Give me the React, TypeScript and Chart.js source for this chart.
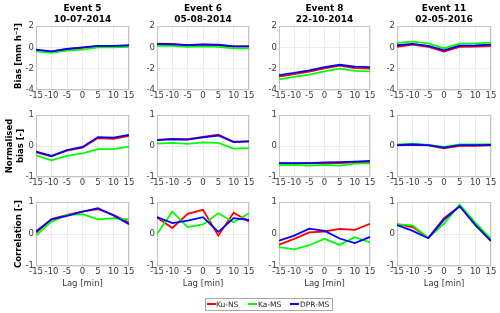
import { useEffect, useRef } from 'react';
import { Chart, registerables } from 'chart.js';
Chart.register(...registerables);

const lags = [-15, -10, -5, 0, 5, 10, 15];
const events = ['Event 5', 'Event 6', 'Event 8', 'Event 11'];
const dates = ['10-07-2014', '05-08-2014', '22-10-2014', '02-05-2016'];
const seriesNames = ['Ku-NS', 'Ka-MS', 'DPR-MS'];
const seriesColors = ['#ff0000', '#00ff00', '#0000ff'];
const rowLabels = [['Bias [mm h\u207B\u00B9]'], ['Normalised', 'bias [-]'], ['Correlation [-]']];
const rowRanges = [[-4, 2, 2], [-1, 1, 1], [-1, 1, 1]];

// Bias [mm h-1], one array per event
const biasKuNS = [
  [-0.25, -0.4, -0.15, -0.05, 0.12, 0.12, 0.15],
  [0.35, 0.33, 0.2, 0.25, 0.2, 0.1, 0.1],
  [-2.75, -2.5, -2.27, -1.97, -1.72, -1.94, -2.0],
  [0.05, 0.27, 0.05, -0.38, 0.05, 0.08, 0.12],
];
const biasKaMS = [
  [-0.37, -0.52, -0.3, -0.2, 0.0, 0.0, 0.05],
  [0.15, 0.15, 0.05, 0.1, 0.05, -0.1, -0.1],
  [-3.0, -2.77, -2.55, -2.25, -2.0, -2.2, -2.25],
  [0.43, 0.55, 0.37, -0.1, 0.35, 0.37, 0.45],
];
const biasDPRMS = [
  [-0.2, -0.37, -0.15, 0.0, 0.15, 0.15, 0.2],
  [0.3, 0.28, 0.22, 0.28, 0.25, 0.1, 0.1],
  [-2.6, -2.4, -2.15, -1.85, -1.63, -1.8, -1.85],
  [0.2, 0.33, 0.15, -0.28, 0.17, 0.18, 0.27],
];

// Normalised bias [-]
const normKuNS = [
  [-0.2, -0.33, -0.15, -0.05, 0.26, 0.23, 0.33],
  [0.2, 0.23, 0.22, 0.3, 0.37, 0.14, 0.15],
  [-0.56, -0.56, -0.56, -0.56, -0.55, -0.53, -0.52],
  [0.02, 0.04, 0.02, -0.07, 0.01, 0.01, 0.02],
];
const normKaMS = [
  [-0.3, -0.46, -0.32, -0.24, -0.1, -0.1, -0.02],
  [0.08, 0.1, 0.07, 0.12, 0.1, -0.08, -0.07],
  [-0.62, -0.61, -0.63, -0.61, -0.63, -0.57, -0.56],
  [0.05, 0.08, 0.04, -0.03, 0.05, 0.05, 0.06],
];
const normDPRMS = [
  [-0.18, -0.32, -0.13, -0.03, 0.29, 0.27, 0.36],
  [0.19, 0.22, 0.21, 0.28, 0.34, 0.13, 0.15],
  [-0.55, -0.55, -0.55, -0.53, -0.52, -0.5, -0.48],
  [0.03, 0.05, 0.03, -0.05, 0.03, 0.03, 0.04],
];

// Correlation [-]
const corrKuNS = [
  [0.04, 0.47, 0.6, 0.7, 0.78, 0.6, 0.36],
  [0.52, 0.19, 0.63, 0.76, -0.05, 0.67, 0.39],
  [-0.33, -0.15, 0.05, 0.08, 0.16, 0.13, 0.32],
  [0.31, 0.22, -0.12, 0.5, 0.88, 0.31, -0.2],
];
const corrKaMS = [
  [-0.05, 0.39, 0.6, 0.62, 0.46, 0.5, 0.46],
  [0.0, 0.7, 0.22, 0.3, 0.65, 0.37, 0.65],
  [-0.41, -0.48, -0.35, -0.15, -0.34, -0.1, -0.26],
  [0.3, 0.27, -0.12, 0.33, 0.92, 0.36, -0.15],
];
const corrDPRMS = [
  [0.08, 0.46, 0.57, 0.7, 0.81, 0.58, 0.31],
  [0.53, 0.34, 0.42, 0.53, 0.07, 0.5, 0.44],
  [-0.21, -0.05, 0.17, 0.1, -0.14, -0.28, -0.09],
  [0.28, 0.1, -0.13, 0.45, 0.87, 0.28, -0.22],
];

const rows = [
  [biasKuNS, biasKaMS, biasDPRMS],
  [normKuNS, normKaMS, normDPRMS],
  [corrKuNS, corrKaMS, corrDPRMS],
];

// layout (plot boxes in page pixels)
const colBoxes = [[36, 129], [157, 249], [279, 370], [397, 491]];
const rowBoxes = [[25, 90], [114, 177], [201, 266]];
const PAD_L = 30, PAD_T = 6, PAD_R = 10, PAD_B = 14;
const FONT = "'DejaVu Sans', sans-serif";
const TICK_COLOR = '#3a3a3a';

const boxPlugin = {
  id: 'boxFrame',
  beforeDatasetsDraw(chart: any) {
    const { ctx, chartArea } = chart;
    const { left, top, right, bottom } = chartArea;
    ctx.save();
    ctx.strokeStyle = '#c4c4c4';
    ctx.lineWidth = 1;
    ctx.strokeRect(Math.round(left) + 0.5, Math.round(top) + 0.5, Math.round(right - left) - 1, Math.round(bottom - top) - 1);
    ctx.restore();
  },
};

function Panel({ r, c }: { r: number; c: number }) {
  const ref = useRef<HTMLCanvasElement>(null);
  const [x0, x1] = colBoxes[c];
  const [y0, y1] = rowBoxes[r];
  const w = x1 - x0 + PAD_L + PAD_R;
  const h = y1 - y0 + PAD_T + PAD_B;
  useEffect(() => {
    const [yMin, yMax, yStep] = rowRanges[r];
    const chart = new Chart(ref.current!, {
      type: 'line',
      data: {
        datasets: rows[r].map((s, i) => ({
          label: seriesNames[i],
          data: lags.map((l, k) => ({ x: l, y: s[c][k] })),
          borderColor: seriesColors[i],
          backgroundColor: seriesColors[i],
          borderWidth: 1.8,
          pointRadius: 0,
          tension: 0,
          order: 3 - i,
        })),
      },
      options: {
        animation: false,
        responsive: false,
        maintainAspectRatio: false,
        layout: { padding: { left: 0, top: PAD_T, right: PAD_R, bottom: 0 } },
        plugins: { legend: { display: false }, tooltip: { enabled: false }, title: { display: false } },
        scales: {
          x: {
            type: 'linear',
            min: -15,
            max: 15,
            afterFit: (s: any) => { s.height = PAD_B; },
            ticks: { stepSize: 5, autoSkip: false, maxRotation: 0, padding: 1, color: TICK_COLOR, font: { family: FONT, size: 8.5 } },
            grid: { color: '#ececec', drawTicks: false },
            border: { display: false },
          },
          y: {
            type: 'linear',
            min: yMin,
            max: yMax,
            afterFit: (s: any) => { s.width = PAD_L; },
            ticks: { stepSize: yStep, autoSkip: false, padding: 2, color: TICK_COLOR, font: { family: FONT, size: 8.5 } },
            grid: { color: '#ececec', drawTicks: false },
            border: { display: false },
          },
        },
      },
      plugins: [boxPlugin],
    } as any);
    return () => chart.destroy();
  }, [r, c]);
  return (
    <canvas
      ref={ref}
      width={w}
      height={h}
      style={{ position: 'absolute', left: x0 - PAD_L, top: y0 - PAD_T, width: w, height: h }}
    />
  );
}

const centered = (x: number, y: number, extra: any = {}) => ({
  position: 'absolute' as const,
  left: x,
  top: y,
  transform: 'translate(-50%, -50%)',
  whiteSpace: 'nowrap' as const,
  lineHeight: 1,
  fontFamily: FONT,
  ...extra,
});

export default function App() {
  const legendItems = [
    { line: 207, text: 216 },
    { line: 248, text: 258 },
    { line: 290, text: 300 },
  ];
  return (
    <div style={{ position: 'absolute', left: 0, top: 0, width: 500, height: 313, background: '#fff', overflow: 'hidden' }}>
      {rowBoxes.map((_, r) => colBoxes.map((__, c) => <Panel key={`${r}-${c}`} r={r} c={c} />))}
      {colBoxes.map(([a, b], c) => (
        <div key={`t${c}`}>
          <div style={centered((a + b) / 2, 7.5, { fontWeight: 'bold', fontSize: 9, color: '#000' })}>{events[c]}</div>
          <div style={centered((a + b) / 2, 18.5, { fontWeight: 'bold', fontSize: 9, color: '#000' })}>{dates[c]}</div>
          <div style={centered((a + b) / 2, 283, { fontSize: 8.5, color: TICK_COLOR })}>Lag [min]</div>
        </div>
      ))}
      {rowLabels.map((lines, r) => (
        <div
          key={`y${r}`}
          style={centered(lines.length > 1 ? 14.5 : 18, r === 0 ? 56 : (rowBoxes[r][0] + rowBoxes[r][1]) / 2, {
            transform: 'translate(-50%, -50%) rotate(-90deg)',
            fontWeight: 'bold',
            fontSize: 8.5,
            color: '#000',
            textAlign: 'center',
            lineHeight: '11px',
          })}
        >
          {lines.map((l, i) => (
            <div key={i}>{l}</div>
          ))}
        </div>
      ))}
      <div style={{ position: 'absolute', left: 205, top: 298, width: 126, height: 11, border: '1px solid #a8a8a8', background: '#fff' }} />
      {legendItems.map((it, i) => (
        <div key={`l${i}`}>
          <div style={{ position: 'absolute', left: it.line, top: 303, width: 9, height: 1.5, background: seriesColors[i] }} />
          <div style={{ position: 'absolute', left: it.text, top: 299.5, fontFamily: FONT, fontSize: 7.5, lineHeight: '9px', color: '#262626', whiteSpace: 'nowrap' }}>{seriesNames[i]}</div>
        </div>
      ))}
    </div>
  );
}
